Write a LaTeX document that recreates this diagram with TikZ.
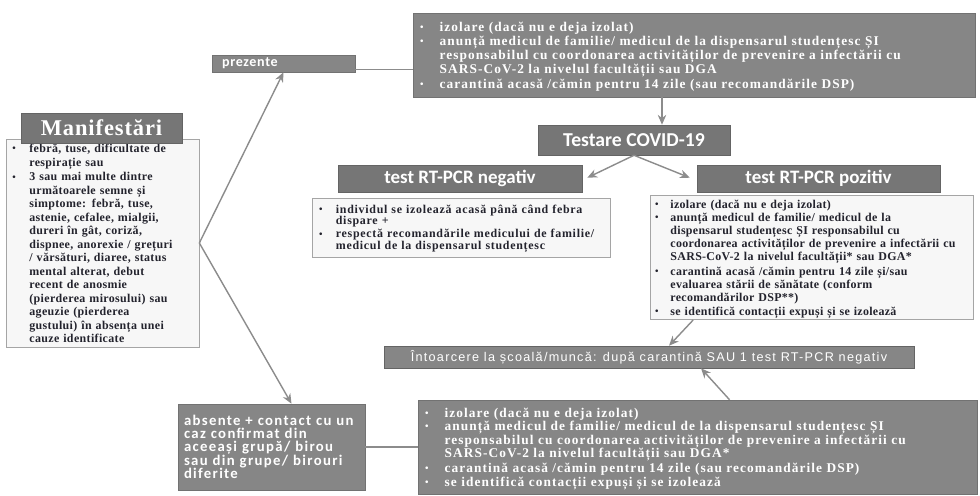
\documentclass[tikz,border=0pt]{standalone}
\usepackage{fontspec}
\setmainfont{Liberation Serif}
\newfontfamily\hdrfont{Carlito}
\newfontfamily\barfont{Liberation Sans}
\usepackage{tikz}
\usetikzlibrary{arrows.meta, positioning, calc}
\definecolor{mygray}{RGB}{134,134,134}
\definecolor{hdrgray}{RGB}{118,118,118}
\definecolor{bodyfill}{RGB}{247,247,247}
\definecolor{bodyframe}{RGB}{165,165,165}
\definecolor{mytext}{RGB}{35,35,45}
\definecolor{myline}{RGB}{140,140,140}
\newlength{\bulind}
\newcommand{\itm}[1]{\par\noindent\makebox[\bulind][l]{\raisebox{0.15ex}{\scriptsize\textbullet}}%
  \begin{tabular}[t]{@{}l@{}}#1\end{tabular}\par}
\tikzset{
  graybox/.style={rectangle, fill=mygray, draw=mygray!85!black, line width=0.4pt,
    text=white, align=left, inner ysep=0pt},
  hdrbox/.style={rectangle, fill=hdrgray, draw=hdrgray!85!black, line width=0.4pt,
    text=white, align=center, inner sep=0pt},
  bodybox/.style={rectangle, fill=bodyfill, draw=bodyframe, line width=0.5pt,
    text=mytext, align=left, inner ysep=0pt},
  arrow/.style={-{Stealth[length=7pt, width=6pt]}, line width=1pt, color=myline},
  line/.style={line width=1pt, color=myline}
}

\begin{document}
\begin{tikzpicture}
  \useasboundingbox[fill=white] (0,0) rectangle (24.5,12.375);

  % Manifestari
  \node[bodybox, minimum width=4.825cm, minimum height=5.05cm, text width=4.5cm, inner xsep=0.16cm,
    font=\fontsize{8.5}{9.6}\selectfont\bfseries\addfontfeatures{LetterSpace=3}\setlength{\bulind}{12pt}] (manif_body) at (2.5625, 6.3)
    {\itm{febră, tuse, dificultate de\\respirație sau}
     \itm{3 sau mai multe dintre\\următoarele semne și\\simptome: febră, tuse,\\astenie, cefalee, mialgii,\\dureri în gât, coriză,\\dispnee, anorexie / grețuri\\/ vărsături, diaree, status\\mental alterat, debut\\recent de anosmie\\(pierderea mirosului) sau\\ageuzie (pierderea\\gustului) în absența unei\\cauze identificate}};
  \node[hdrbox, minimum width=4.025cm, minimum height=0.75cm,
    font=\fontsize{16}{16}\selectfont\bfseries\addfontfeatures{LetterSpace=4}] (manif_hdr) at (2.5375, 9.175) {Manifestări};

  % Simptome prezente
  \node[graybox, minimum width=3.575cm, minimum height=0.425cm, text width=3.075cm, inner xsep=0.25cm,
    font=\hdrfont\fontsize{10}{10}\selectfont\bfseries\addfontfeatures{LetterSpace=5}] (prezente) at (7.0875, 10.7875) {prezente};
  \node[graybox, minimum width=14.05cm, minimum height=2.1cm, text width=13.7cm, inner xsep=0.175cm,
    font=\fontsize{9.5}{10}\selectfont\bfseries\addfontfeatures{LetterSpace=8}\setlength{\bulind}{14pt}] (top_box) at (17.35, 11.0)
    {\itm{izolare (dacă nu e deja izolat)}
     \itm{anunță medicul de familie/ medicul de la dispensarul studențesc ȘI\\responsabilul cu coordonarea activităților de prevenire a infectării cu\\SARS-CoV-2 la nivelul facultății sau DGA}
     \itm{carantină acasă /cămin pentru 14 zile (sau recomandările DSP)}};

  % Testare
  \node[hdrbox, minimum width=4.8cm, minimum height=0.75cm,
    font=\hdrfont\fontsize{14}{14}\selectfont\bfseries] (testare) at (15.85, 8.875) {Testare COVID-19};

  % Rezultat negativ
  \node[bodybox, minimum width=7.45cm, minimum height=1.475cm, text width=7.1cm, inner xsep=0.175cm,
    font=\fontsize{8.5}{7.8}\selectfont\bfseries\addfontfeatures{LetterSpace=6}\setlength{\bulind}{12pt}] (neg_body) at (11.525, 6.6875)
    {\itm{individul se izolează acasă până când febra\\dispare +}
     \itm{respectă recomandările medicului de familie/\\medicul de la dispensarul studențesc}};
  \node[hdrbox, minimum width=6.1cm, minimum height=0.675cm,
    font=\hdrfont\fontsize{13.5}{13.5}\selectfont\bfseries] (neg_hdr) at (11.5, 7.9125) {test RT-PCR negativ};

  % Rezultat pozitiv
  \node[bodybox, minimum width=8.075cm, minimum height=2.975cm, text width=7.825cm, inner xsep=0.125cm,
    font=\fontsize{8.5}{9.3}\selectfont\bfseries\addfontfeatures{LetterSpace=2.5}\setlength{\bulind}{11pt}] (poz_body) at (20.2875, 5.9375)
    {\itm{izolare (dacă nu e deja izolat)}
     \itm{anunță medicul de familie/ medicul de la\\dispensarul studențesc ȘI responsabilul cu\\coordonarea activităților de prevenire a infectării cu\\SARS-CoV-2 la nivelul facultății* sau DGA*}
     \itm{carantină acasă /cămin pentru 14 zile și/sau\\evaluarea stării de sănătate (conform\\recomandărilor DSP**)}
     \itm{se identifică contacții expuși și se izolează}};
  \node[hdrbox, minimum width=6.075cm, minimum height=0.675cm,
    font=\hdrfont\fontsize{13.5}{13.5}\selectfont\bfseries] (poz_hdr) at (20.4625, 7.9125) {test RT-PCR pozitiv};

  % Intoarcere
  \node[hdrbox, fill=mygray, minimum width=13.25cm, minimum height=0.55cm,
    font=\barfont\fontsize{9}{9}\selectfont\addfontfeatures{LetterSpace=10}] (intoarc) at (16.225, 3.45)
    {Întoarcere la școală/muncă: după carantină SAU 1 test RT-PCR negativ};

  % Simptome absente
  \node[graybox, minimum width=4.675cm, minimum height=2.15cm, text width=4.375cm, inner xsep=0.15cm,
    font=\hdrfont\fontsize{10.5}{9.2}\selectfont\bfseries\addfontfeatures{LetterSpace=9}] (absente) at (6.7875, 1.2)
    {absente + contact cu un\\caz confirmat din\\aceeași grupă/ birou\\sau din grupe/ birouri\\diferite};
  \node[graybox, minimum width=13.975cm, minimum height=2.35cm, text width=13.625cm, inner xsep=0.175cm,
    font=\fontsize{9.5}{9.6}\selectfont\bfseries\addfontfeatures{LetterSpace=8}\setlength{\bulind}{14pt}] (bot_box) at (17.4375, 1.2)
    {\itm{izolare (dacă nu e deja izolat)}
     \itm{anunță medicul de familie/ medicul de la dispensarul studențesc ȘI\\responsabilul cu coordonarea activităților de prevenire a infectării cu\\SARS-CoV-2 la nivelul facultății sau DGA*}
     \itm{carantină acasă /cămin pentru 14 zile (sau recomandările DSP)}
     \itm{se identifică contacții expuși și se izolează}};

  % Conectori
  \coordinate (test_in) at ($(testare.north)+(0.7,0)$);
  \coordinate (neg_in) at ($(neg_hdr.north east)+(0.125,-0.325)$);
  \coordinate (poz_in) at ($(poz_hdr.north west)+(-0.175,-0.325)$);
  \draw[arrow] (manif_body.east) -- (prezente.south);
  \draw[arrow] (manif_body.east) -- ([xshift=0.5cm]absente.north);
  \draw[line] ([yshift=-0.15cm]prezente.east) -- ([yshift=-0.15cm]prezente.east -| top_box.west);
  \draw[line] (absente.east) -- (absente.east -| bot_box.west);
  \draw[arrow] (test_in |- top_box.south) -- (test_in);
  \draw[arrow] (testare.south) -- (neg_in);
  \draw[arrow] (testare.south) -- (poz_in);
  \draw[arrow] ([xshift=-2.96cm]poz_body.south) -- ([xshift=0.5cm]intoarc.north);
  \draw[arrow] ([xshift=0.8cm]bot_box.north) -- ([xshift=1.3cm]intoarc.south);
\end{tikzpicture}
\end{document}
